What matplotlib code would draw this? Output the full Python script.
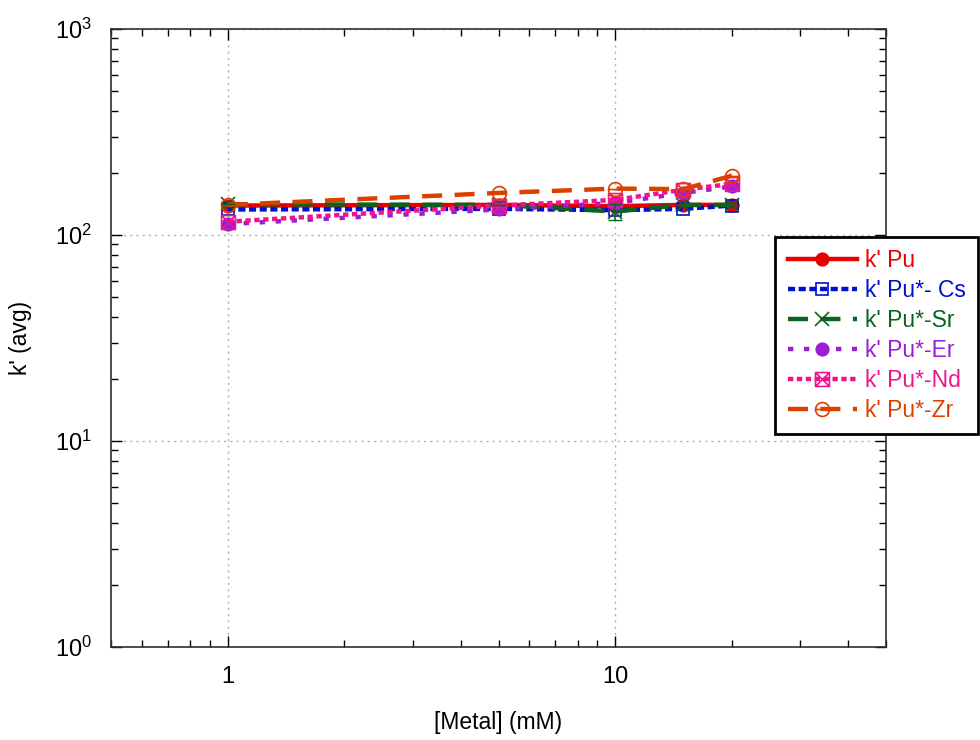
import matplotlib
matplotlib.use("Agg")
import matplotlib.pyplot as plt
import numpy as np
from matplotlib.path import Path
from matplotlib.ticker import FixedLocator, LogLocator, NullFormatter

plt.rcParams["font.family"] = ["Liberation Sans", "DejaVu Sans"]
plt.rcParams["mathtext.fontset"] = "custom"
plt.rcParams["mathtext.rm"] = "Liberation Sans"

metal = [1, 5, 10, 15, 20]
k_pu = [139, 140, 138, 140, 140]
k_cs = [133, 134, 132, 134, 139]
k_sr = [141, 140, 130, 140, 140]
k_er = [113, 133, 143, 160, 172]
k_nd = [116, 139, 148, 166, 177]
k_zr = [140, 160, 168, 167, 194]
sr_err = [0, 0, 12, 0, 0]

labels = ["k' Pu", "k' Pu*- Cs", "k' Pu*-Sr", "k' Pu*-Er", "k' Pu*-Nd", "k' Pu*-Zr"]
colors = ["#e60000", "#0010d0", "#0a6420", "#9b1ed6", "#f0148c", "#dc4000"]

# custom markers: boxed X and circle with a bar
box_x = Path.make_compound_path(
    Path([(-1, -1), (1, -1), (1, 1), (-1, 1), (-1, -1)], closed=True),
    Path([(-1, -1), (1, 1)]),
    Path([(-1, 1), (1, -1)]),
)
circ_bar = Path.make_compound_path(Path.unit_circle(), Path([(-1, 0), (1, 0)]))

fig = plt.figure(figsize=(9.8, 7.4), dpi=100)
ax = fig.add_axes([0.1133, 0.1257, 0.7908, 0.8351])

series = [k_pu, k_cs, k_sr, k_er, k_nd, k_zr]
styles = [
    dict(marker="o", ms=9, mfc=colors[0], dashes=None),
    dict(marker="s", ms=9, mfc="none", dashes=(1.6, 0.8)),
    dict(marker="x", ms=10, mfc="none", dashes=(4.5, 2.8)),
    dict(marker="o", ms=9, mfc=colors[3], dashes=(1.2, 2.4)),
    dict(marker=box_x, ms=10, mfc="none", dashes=(1.2, 0.8)),
    dict(marker=circ_bar, ms=10, mfc="none", dashes=(4.5, 2.8)),
]

handles = []
for vals, lab, col, st in zip(series, labels, colors, styles):
    kw = dict(color=col, lw=3.2, marker=st["marker"], ms=st["ms"],
              mfc=st["mfc"], mec=col, mew=1.2, label=lab)
    if st["dashes"] is not None:
        kw["dashes"] = st["dashes"]
    else:
        kw["ls"] = "-"
    line, = ax.plot(metal, vals, **kw)
    handles.append(line)

ax.errorbar(metal, k_sr, yerr=sr_err, fmt="none", ecolor=colors[2], elinewidth=1.2, capsize=5)

ax.set_xscale("log")
ax.set_yscale("log")
ax.set_xlim(0.5, 50)
ax.set_ylim(1, 1000)

ax.xaxis.set_major_locator(FixedLocator([1, 10]))
ax.set_xticklabels(["1", "10"])
ax.xaxis.set_minor_locator(LogLocator(base=10, subs=np.arange(2, 10)))
ax.xaxis.set_minor_formatter(NullFormatter())
ax.yaxis.set_minor_locator(LogLocator(base=10, subs=np.arange(2, 10)))
ax.yaxis.set_minor_formatter(NullFormatter())

ax.tick_params(which="both", direction="in", top=True, right=True, labelsize=17, width=1)
ax.tick_params(which="major", length=8)
ax.tick_params(which="minor", length=5)
ax.tick_params(axis="x", which="major", pad=14)
ax.tick_params(axis="y", which="major", pad=14)

ax.grid(True, which="major", ls=(0, (1.5, 3)), color="#b0b0b0", lw=1)
for sp in ax.spines.values():
    sp.set_linewidth(1.2)
    sp.set_color("#303030")

ax.set_xlabel("[Metal] (mM)", fontsize=16.5, labelpad=16)
ax.set_ylabel("k' (avg)", fontsize=16.5, labelpad=16)

leg = ax.legend(handles=handles, loc="upper right", bbox_to_anchor=(0.998, 0.68),
                bbox_transform=fig.transFigure, fontsize=16.5, frameon=True,
                fancybox=False, edgecolor="black", handlelength=3.0,
                borderaxespad=0, labelspacing=0.3, handletextpad=0.35,
                borderpad=0.55)
leg.get_frame().set_linewidth(2)
leg.get_frame().set_alpha(1)
for txt, col in zip(leg.get_texts(), colors):
    txt.set_color(col)

fig.savefig("out.png", dpi=100)
